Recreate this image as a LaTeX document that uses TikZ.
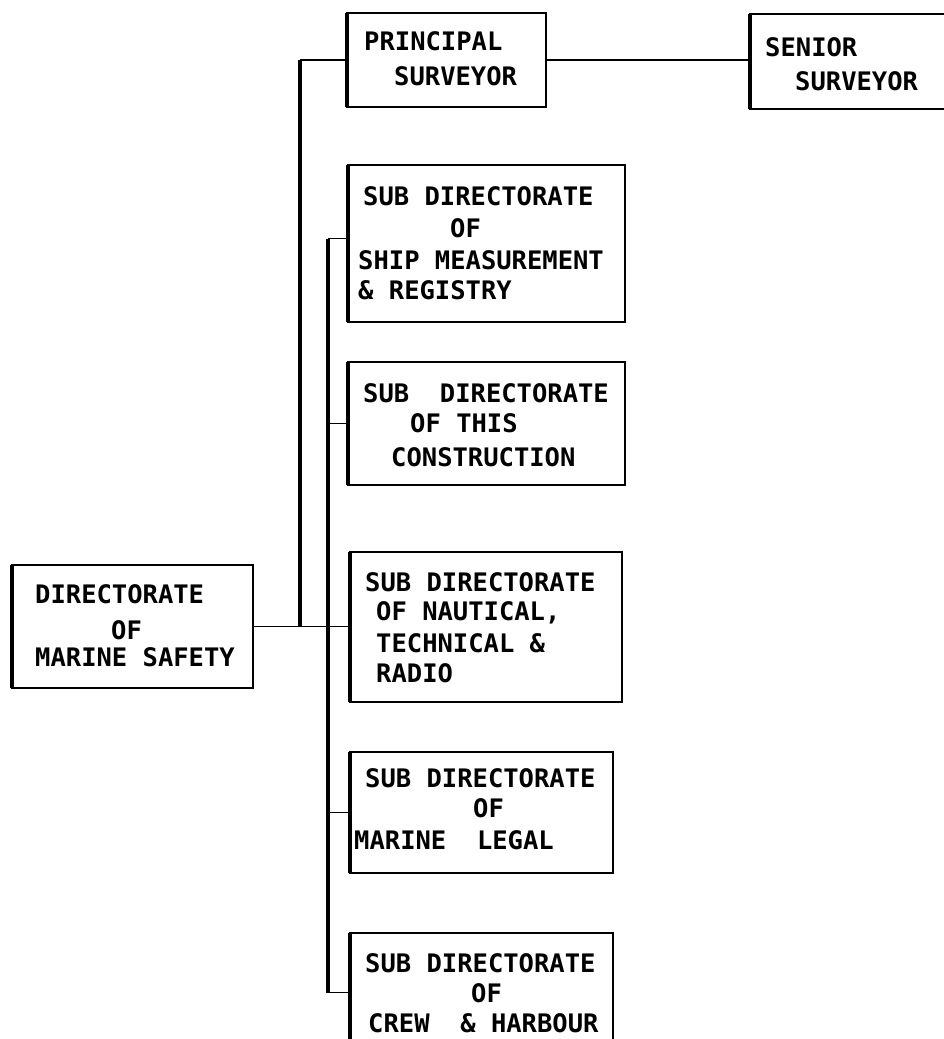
\documentclass[tikz,border=0pt]{standalone}
\usepackage{fontspec}
\newfontfamily\boxfont{DejaVu Sans Mono}
\begin{document}
\begin{tikzpicture}[x=1pt,y=-1pt,
  box/.style={draw,line width=2pt,inner sep=0pt,outer sep=0pt},
  lbl/.style={anchor=west,inner sep=0pt,font=\boxfont\bfseries\fontsize{25.5}{30}\selectfont},
  conn/.style={line width=1.9pt},
  trunk/.style={line width=3.4pt},
  edge/.style={line width=4.2pt}]
\useasboundingbox (0,0) rectangle (944,1039);
\clip (0,0) rectangle (944,1039);
\fill[white] (0,0) rectangle (944,1039);
% boxes
\node[box,minimum width=199pt,minimum height=94pt] (ps) at (446.5,60) {};
\node[box,minimum width=230pt,minimum height=95pt] (ss) at (865,61.5) {};
\node[box,minimum width=241pt,minimum height=123pt] (dms) at (132.5,626.5) {};
\node[box,minimum width=277pt,minimum height=157pt] (sm) at (486.5,243.5) {};
\node[box,minimum width=277pt,minimum height=123pt] (tc) at (486.5,423.5) {};
\node[box,minimum width=272pt,minimum height=150pt] (nt) at (486,627) {};
\node[box,minimum width=263pt,minimum height=121pt] (ml) at (481.5,812.5) {};
\node[box,minimum width=263pt,minimum height=147pt] (ch) at (481.5,1006.5) {};
\foreach \b in {ps,ss,dms,sm,tc,nt,ml,ch}{
  \draw[edge] (\b.north west) -- (\b.south west);
}
% texts
\node[lbl] (ps1) at (364,41) {PRINCIPAL};
\node[lbl] (ps2) at (394,76) {SURVEYOR};
\node[lbl] (ss1) at (765,47) {SENIOR};
\node[lbl] (ss2) at (795,81) {SURVEYOR};
\node[lbl] (dm1) at (35,594) {DIRECTORATE};
\node[lbl] (dm2) at (111,630) {OF};
\node[lbl] (dm3) at (35,657) {MARINE SAFETY};
\node[lbl] (sm1) at (363,196) {SUB DIRECTORATE};
\node[lbl] (sm2) at (450,228) {OF};
\node[lbl] (sm3) at (358,260) {SHIP MEASUREMENT};
\node[lbl] (sm4) at (358,290) {\& REGISTRY};
\node[lbl] (tc1) at (363,393) {SUB\ \ DIRECTORATE};
\node[lbl] (tc2) at (410,423) {OF THIS};
\node[lbl] (tc3) at (391,457) {CONSTRUCTION};
\node[lbl] (nt1) at (365,582) {SUB DIRECTORATE};
\node[lbl] (nt2) at (376,613) {OF NAUTICAL,};
\node[lbl] (nt3) at (376,643) {TECHNICAL \&};
\node[lbl] (nt4) at (376,673) {RADIO};
\node[lbl] (ml1) at (365,778) {SUB DIRECTORATE};
\node[lbl] (ml2) at (473,808) {OF};
\node[lbl] (ml3) at (354,840) {MARINE\ \ LEGAL};
\node[lbl] (ch1) at (365,963) {SUB DIRECTORATE};
\node[lbl] (ch2) at (471,993) {OF};
\node[lbl] (ch3) at (368,1023) {CREW\ \ \& HARBOUR};
% connectors
\coordinate (j1) at (300,0);
\coordinate (j2) at (328,0);
\draw[conn] (ps.east) -- (ps.east -| ss.west);
\draw[conn] (dms.east) -- (dms.east -| nt.west);
\draw[trunk] (dms.east -| j1) -- (ps.west -| j1);
\draw[conn] (ps.west -| j1) -- (ps.west);
\draw[trunk] ([yshift=5pt]sm.west -| j2) -- ([yshift=14pt]ch.west -| j2);
\draw[conn] ([yshift=5pt]sm.west -| j2) -- ([yshift=5pt]sm.west);
\draw[conn] (tc.west -| j2) -- (tc.west);
\draw[conn] (ml.west -| j2) -- (ml.west);
\draw[conn] ([yshift=14pt]ch.west -| j2) -- ([yshift=14pt]ch.west);
\end{tikzpicture}
\end{document}
